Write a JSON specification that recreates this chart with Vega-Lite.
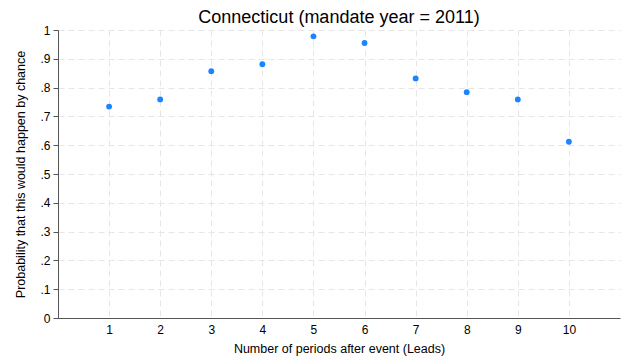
{
  "$schema": "https://vega.github.io/schema/vega-lite/v6.json",
  "width": 562,
  "height": 288,
  "autosize": "none",
  "padding": {"left": 58, "top": 30, "right": 10, "bottom": 44},
  "background": "white",
  "title": {"text": "Connecticut (mandate year = 2011)", "fontSize": 18, "font": "Liberation Sans", "fontWeight": "normal", "color": "#000000", "offset": -3, "anchor": "middle"},
  "config": {
    "view": {"stroke": null},
    "axis": {"labelFont": "Liberation Sans", "titleFont": "Liberation Sans", "labelFontSize": 12, "titleFontSize": 12.5, "titleFontWeight": "normal", "labelColor": "#000000", "titleColor": "#000000", "domainColor": "#555555", "tickColor": "#555555", "gridColor": "#e6e6e6", "gridDash": [6, 4], "gridWidth": 1}
  },
  "data": {"values": [
    {"lead": 1, "p": 0.734},
    {"lead": 2, "p": 0.759},
    {"lead": 3, "p": 0.857},
    {"lead": 4, "p": 0.881},
    {"lead": 5, "p": 0.978},
    {"lead": 6, "p": 0.955},
    {"lead": 7, "p": 0.832},
    {"lead": 8, "p": 0.784},
    {"lead": 9, "p": 0.759},
    {"lead": 10, "p": 0.612}
  ]},
  "mark": {"type": "circle", "size": 34, "color": "#1a85ff", "opacity": 1},
  "encoding": {
    "x": {"field": "lead", "type": "quantitative", "scale": {"domain": [0, 11], "nice": false}, "axis": {"values": [1,2,3,4,5,6,7,8,9,10], "title": "Number of periods after event (Leads)", "tickSize": 0, "labelPadding": 6, "titlePadding": 7}},
    "y": {"field": "p", "type": "quantitative", "scale": {"domain": [0, 1], "nice": false}, "axis": {"values": [0,0.1,0.2,0.3,0.4,0.5,0.6,0.7,0.8,0.9,1], "labelExpr": "datum.value == 0 ? '0' : datum.value == 1 ? '1' : substring(format(datum.value, '.1f'), 1)", "title": "Probability that this would happen by chance", "tickSize": 5, "labelPadding": 3, "titlePadding": 12}}
  }
}
